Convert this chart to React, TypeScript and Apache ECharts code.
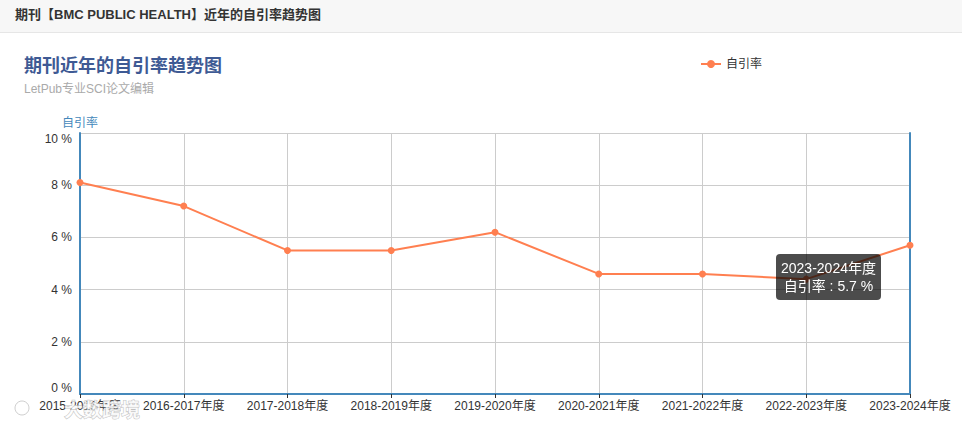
import React, { useEffect, useRef } from "react";
import * as echarts from "echarts";

const categories = [
  "2015-2016年度",
  "2016-2017年度",
  "2017-2018年度",
  "2018-2019年度",
  "2019-2020年度",
  "2020-2021年度",
  "2021-2022年度",
  "2022-2023年度",
  "2023-2024年度",
];
const selfCitationRate = [8.1, 7.2, 5.5, 5.5, 6.2, 4.6, 4.6, 4.4, 5.7];
const seriesName = "自引率";
const pageHeading = "期刊【BMC PUBLIC HEALTH】近年的自引率趋势图";
const chartTitle = "期刊近年的自引率趋势图";
const chartSubtitle = "LetPub专业SCI论文编辑";
const watermarkText = "大数跨境";

const FONT = "Arial, 'Liberation Sans', 'Noto Sans CJK SC', sans-serif";
const AXIS_BLUE = "#4488bb";

export default function App() {
  const ref = useRef<HTMLDivElement>(null);

  useEffect(() => {
    if (!ref.current) return;
    const chart = echarts.init(ref.current, null, { renderer: "svg" });
    chart.setOption({
      animation: false,
      textStyle: { fontFamily: FONT },
      graphic: [
        {
          type: "rect",
          left: 0,
          top: 0,
          shape: { width: 962, height: 32 },
          style: { fill: "#f7f7f7" },
          z: 0,
        },
        {
          type: "line",
          shape: { x1: 0, y1: 32.5, x2: 962, y2: 32.5 },
          style: { stroke: "#e6e6e6", lineWidth: 1 },
          z: 0,
        },
        {
          type: "text",
          x: 15,
          y: 14,
          style: {
            text: pageHeading,
            fill: "#333",
            font: `bold 13px ${FONT}`,
            verticalAlign: "middle",
          },
          z: 1,
        },
        {
          type: "circle",
          shape: { cx: 22, cy: 408, r: 7 },
          style: { fill: "rgba(255,255,255,0.7)", stroke: "rgba(160,160,160,0.5)", lineWidth: 1 },
          z: 100,
        },
        {
          type: "text",
          x: 64,
          y: 410,
          style: {
            text: watermarkText,
            fill: "rgba(255,255,255,0.8)",
            stroke: "rgba(150,150,150,0.6)",
            lineWidth: 1,
            font: `bold 19px ${FONT}`,
            verticalAlign: "middle",
          },
          z: 100,
        },
      ],
      title: {
        text: chartTitle,
        subtext: chartSubtitle,
        left: 19,
        top: 52,
        itemGap: 8,
        textStyle: { color: "#3e5a94", fontSize: 18, fontWeight: "bold", fontFamily: FONT },
        subtextStyle: { color: "#aaa", fontSize: 12, fontFamily: FONT },
      },
      legend: {
        data: [seriesName],
        left: 695,
        top: 53,
        itemWidth: 20,
        itemHeight: 10,
        itemGap: 5,
        textStyle: { color: "#333", fontSize: 12, fontFamily: FONT },
      },
      tooltip: {
        trigger: "item",
        alwaysShowContent: true,
        transitionDuration: 0,
        backgroundColor: "rgba(0,0,0,0.7)",
        borderWidth: 0,
        padding: [5, 5],
        textStyle: { color: "#fff", fontSize: 14, fontFamily: FONT },
        extraCssText: "line-height:18px;border-radius:4px;box-shadow:none;text-align:center;",
        position: (point: number[]) => [point[0] - 134, point[1] + 9],
        formatter: (p: any) => `${p.name}<br/>${p.seriesName} : ${p.value} %`,
      },
      grid: { left: 80, right: 52, top: 133, bottom: 35, containLabel: false },
      xAxis: {
        type: "category",
        data: categories,
        boundaryGap: false,
        axisLine: { show: true, lineStyle: { color: AXIS_BLUE, width: 2 } },
        axisTick: { show: true, length: 4, lineStyle: { color: "#333" } },
        axisLabel: { color: "#333", fontSize: 12, margin: 6, interval: 0, fontFamily: FONT },
        splitLine: { show: true, lineStyle: { color: "#ccc", width: 1 } },
      },
      yAxis: [
        {
          type: "value",
          name: seriesName,
          nameGap: 4,
          nameTextStyle: { color: AXIS_BLUE, fontSize: 12, fontFamily: FONT },
          min: 0,
          max: 10,
          interval: 2,
          axisLine: { show: true, lineStyle: { color: AXIS_BLUE, width: 2 } },
          axisTick: { show: false },
          axisLabel: {
            formatter: "{value} %",
            color: "#333",
            fontSize: 12,
            margin: 8,
            fontFamily: FONT,
            verticalAlignMinLabel: "bottom",
            verticalAlignMaxLabel: "top",
          },
          splitLine: { show: true, lineStyle: { color: "#ccc", width: 1 } },
        },
        {
          type: "value",
          position: "right",
          min: 0,
          max: 10,
          interval: 2,
          axisLine: { show: true, lineStyle: { color: AXIS_BLUE, width: 2 } },
          axisTick: { show: false },
          axisLabel: { show: false },
          splitLine: { show: false },
        },
      ],
      series: [
        {
          name: seriesName,
          type: "line",
          data: selfCitationRate,
          yAxisIndex: 0,
          color: "#ff7f50",
          symbol: "circle",
          symbolSize: 7,
          lineStyle: { width: 2, color: "#ff7f50" },
          itemStyle: { color: "#ff7f50" },
          emphasis: { scale: false },
        },
      ],
    });
    chart.dispatchAction({ type: "showTip", seriesIndex: 0, dataIndex: 8 });
    return () => chart.dispose();
  }, []);

  return (
    <div
      ref={ref}
      style={{ position: "absolute", left: 0, top: 0, width: 962, height: 429, background: "#fff" }}
    />
  );
}
